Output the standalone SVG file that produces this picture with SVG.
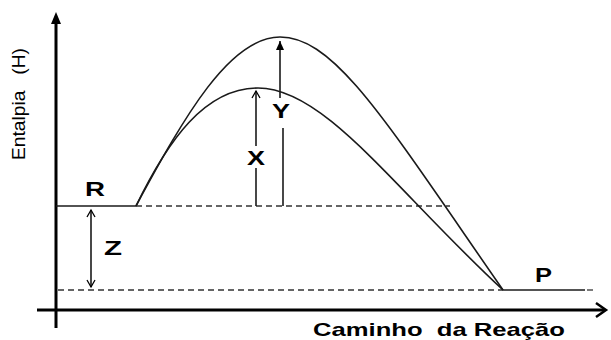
<svg xmlns="http://www.w3.org/2000/svg" width="611" height="340" viewBox="0 0 611 340">
<style>
.ax{stroke:#000;stroke-width:3;fill:none}
.ln{stroke:#1a1a1a;stroke-width:1.6;fill:none}
.ds{stroke:#333;stroke-width:1.3;fill:none;stroke-dasharray:6,4}
.lb{font-family:"Liberation Sans",Arial,sans-serif;font-weight:bold;font-size:20px;fill:#000}
</style>
<defs>
<marker id="open" markerWidth="10" markerHeight="10" refX="8" refY="5" orient="auto" markerUnits="userSpaceOnUse"><path d="M1,1 L8,5 L1,9" fill="none" stroke="#000" stroke-width="1.3"/></marker>
<marker id="openS" markerWidth="10" markerHeight="10" refX="8" refY="5" orient="auto-start-reverse" markerUnits="userSpaceOnUse"><path d="M1,1 L8,5 L1,9" fill="none" stroke="#000" stroke-width="1.3"/></marker>
<marker id="fill" markerWidth="10" markerHeight="10" refX="9" refY="5" orient="auto" markerUnits="userSpaceOnUse"><path d="M0,1 L9,5 L0,9 Z" fill="#000"/></marker>
</defs>
<g id="axes">
<line class="ax" x1="56" y1="328" x2="56" y2="20"/>
<path d="M51,24 L56,12 L61,24 Z" fill="#000"/>
<line class="ax" x1="37" y1="310" x2="604" y2="310"/>
<path d="M596,303 L606,310 L596,317" fill="none" stroke="#000" stroke-width="2.5"/>
</g>
<g id="levels">
<line class="ln" x1="56" y1="206" x2="136" y2="206"/>
<line class="ds" x1="136" y1="206" x2="450" y2="206"/>
<line class="ds" x1="58" y1="290" x2="503" y2="290"/>
<line class="ln" x1="503" y1="290" x2="585" y2="290"/>
<line class="ds" x1="587" y1="290" x2="596" y2="290"/>
</g>
<g id="curves">
<path class="ln" d="M136,206 C185,115 230,37 280,37 C335,37 385,120 503,290"/>
<path class="ln" d="M136,206 C168,140 205,88 258,88 C325,88 395,190 503,290"/>
</g>
<g id="connectors">
<line class="ln" x1="256" y1="146" x2="256" y2="91" marker-end="url(#open)"/>
<line class="ln" x1="256" y1="168" x2="256" y2="206"/>
<line class="ln" x1="280" y1="98" x2="280" y2="41" marker-end="url(#fill)"/>
<line class="ln" x1="283" y1="128" x2="283" y2="206"/>
<line class="ln" x1="91" y1="210" x2="91" y2="287" marker-start="url(#openS)" marker-end="url(#openS)"/>
</g>
<g id="labels">
<text class="lb" x="85" y="196" textLength="20" lengthAdjust="spacingAndGlyphs">R</text>
<text class="lb" x="535" y="282" textLength="17" lengthAdjust="spacingAndGlyphs">P</text>
<text class="lb" x="247" y="165" textLength="18" lengthAdjust="spacingAndGlyphs">X</text>
<text class="lb" x="272" y="118" textLength="18" lengthAdjust="spacingAndGlyphs">Y</text>
<text class="lb" x="104" y="255" textLength="18" lengthAdjust="spacingAndGlyphs">Z</text>
<text xml:space="preserve" x="313" y="336" textLength="252" lengthAdjust="spacingAndGlyphs" font-family="'Liberation Sans',Arial,sans-serif" font-weight="bold" font-size="19">Caminho  da Reação</text>
<text xml:space="preserve" transform="translate(25,160) rotate(-90)" textLength="112" lengthAdjust="spacingAndGlyphs" font-family="'Liberation Sans',Arial,sans-serif" font-size="18">Entalpia   (H)</text>
</g>
</svg>
